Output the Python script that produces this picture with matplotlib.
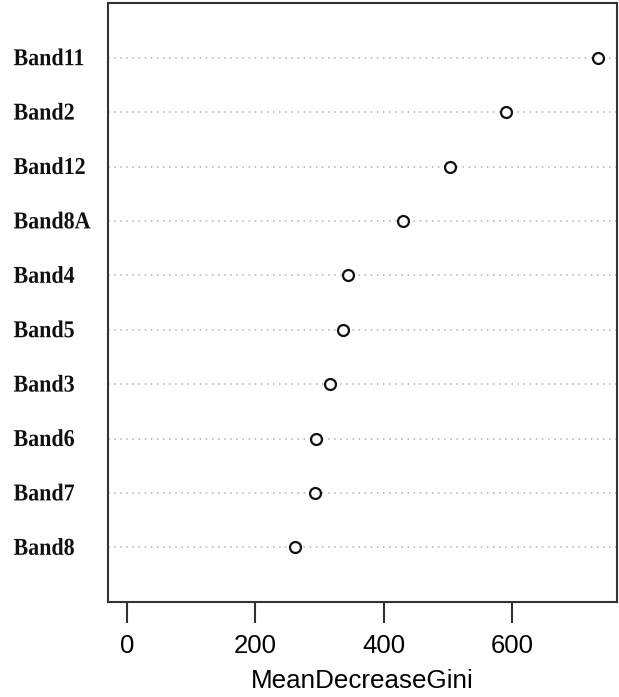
import matplotlib
matplotlib.use('Agg')
import matplotlib.pyplot as plt
import matplotlib.transforms as mtransforms
from matplotlib.textpath import TextPath
from matplotlib.font_manager import FontProperties
from matplotlib.patches import PathPatch

# variable importance (random forest, Gini)
bands = ['Band8', 'Band7', 'Band6', 'Band3', 'Band5',
         'Band4', 'Band8A', 'Band12', 'Band2', 'Band11']
gini = [262, 293, 295, 317, 337, 344, 430, 504, 591, 734]
xticks = [0, 200, 400, 600]

fig = plt.figure(figsize=(6.19, 6.97), dpi=100)
W, H = 619, 697
left, right, top, bottom = 108.3, 616.7, 3.3, 601.7
ax = fig.add_axes([left / W, 1 - bottom / H, (right - left) / W, (bottom - top) / H])

ypos = list(range(1, len(bands) + 1))
xmax = max(gini)
xlim = (-0.04 * xmax, 1.04 * xmax)

ax.hlines(ypos, xlim[0], xlim[1], colors='#b0b0b0', linestyles=(0, (1, 3)), linewidth=1.1)
ax.scatter(gini, ypos, s=62, facecolors='white', edgecolors='#111111', linewidths=1.6, zorder=3)

ax.set_xlim(*xlim)
ax.set_ylim(0, len(bands) + 1)

for sp in ax.spines.values():
    sp.set_linewidth(1.5)
    sp.set_color('#333333')

ax.set_yticks([])
ax.set_xticks(xticks)
ax.set_xticklabels([str(t) for t in xticks], fontsize=18.5, family='Liberation Sans')
ax.tick_params(axis='x', length=15, width=1.5, color='#333333', pad=8.5)
ax.set_xlabel('MeanDecreaseGini', fontsize=18.7, family='Liberation Sans', labelpad=8)

# row labels: bold serif, slightly tall glyphs, left aligned
prop = FontProperties(family='Liberation Serif', weight='bold')
for name, y in zip(bands, ypos):
    yd = ax.transData.transform((0, y))[1]
    tp = TextPath((0, 0), name, size=22, prop=prop)
    tr = mtransforms.Affine2D().scale(1.0, 1.1).translate(13.5, yd - 7.5)
    fig.patches.append(PathPatch(tp, transform=tr, facecolor='#111111',
                                 edgecolor='none', figure=fig))

fig.savefig('out.png', dpi=100)
